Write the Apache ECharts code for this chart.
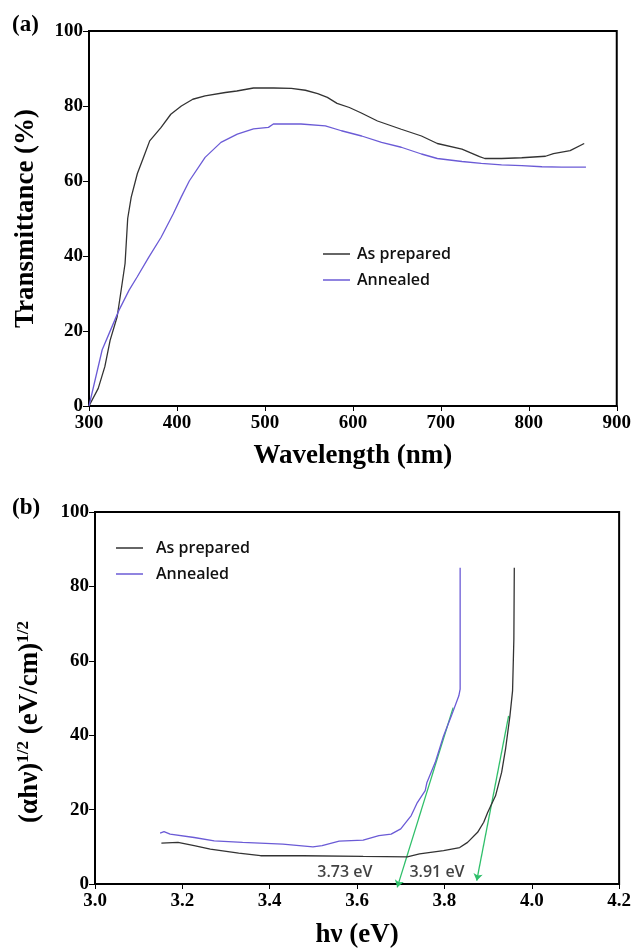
<!DOCTYPE html>
<html>
<head>
<meta charset="utf-8">
<script src="https://cdn.jsdelivr.net/npm/echarts@6/dist/echarts.min.js"></script>
<style>
html, body { margin: 0; padding: 0; background: #fff; }
#chart { width: 634px; height: 950px; }
</style>
</head>
<body>
<div id="chart"></div>
<script>
// (a) transmittance vs wavelength
var wlPrepared = [300, 310.5, 318, 324, 332, 336, 341, 344, 348, 355, 361.5, 369, 382, 393, 405, 418, 432, 455, 468, 487, 510, 530, 546, 560, 571, 582, 596, 609, 628, 655, 678, 696, 724, 744, 750, 769, 792, 819, 828, 847, 863];
var tPrepared = [0, 4.7, 10.5, 17.5, 23.8, 30, 38, 50, 55.7, 62, 66, 70.7, 74.3, 77.8, 80, 81.8, 82.7, 83.6, 84, 84.8, 84.8, 84.7, 84.2, 83.3, 82.3, 80.7, 79.6, 78.2, 76, 73.8, 72, 70, 68.5, 66.5, 66, 66, 66.2, 66.6, 67.3, 68.1, 70];
var wlAnnealed = [300, 306, 315, 322.8, 334, 345.6, 354.7, 368, 382, 395.7, 404.8, 414, 432, 450, 468.6, 487, 504, 509.6, 541, 568.7, 587, 610, 632.6, 655, 678, 696, 724, 746, 769, 792, 815, 837.6, 865];
var tAnnealed = [0, 6, 15, 19.3, 25.5, 30.9, 34.4, 39.7, 45, 51.2, 55.7, 60, 66.3, 70.3, 72.5, 73.9, 74.3, 75.2, 75.2, 74.7, 73.4, 72, 70.3, 69, 67.2, 66, 65.2, 64.7, 64.3, 64.1, 63.8, 63.7, 63.7];

// (b) Tauc plot
var evPrepared = [3.152, 3.19, 3.227, 3.264, 3.329, 3.379, 3.476, 3.614, 3.715, 3.743, 3.798, 3.835, 3.853, 3.876, 3.89, 3.899, 3.917, 3.931, 3.94, 3.95, 3.956, 3.959, 3.96];
var aPrepared = [11.0, 11.2, 10.3, 9.4, 8.3, 7.6, 7.6, 7.4, 7.3, 8.1, 9.0, 9.8, 11.2, 13.9, 16.6, 19.2, 23.7, 30, 36.3, 45.2, 51.9, 65.8, 85];
var evAnnealed = [3.149, 3.158, 3.172, 3.227, 3.273, 3.338, 3.43, 3.499, 3.52, 3.559, 3.614, 3.65, 3.678, 3.7, 3.724, 3.738, 3.756, 3.76, 3.779, 3.798, 3.816, 3.833, 3.836, 3.836];
var aAnnealed = [13.7, 14.1, 13.4, 12.5, 11.6, 11.2, 10.7, 10.0, 10.3, 11.5, 11.8, 13.0, 13.4, 14.8, 18.4, 21.9, 25.1, 27.3, 32.7, 39.8, 45.2, 50.6, 52.4, 85];

// band gap extrapolation arrows and labels
var gapArrows = [[[3.82, 47.4], [3.692, -0.9]], [[3.947, 45.2], [3.874, 0.9]]];
var gapLabels = ['3.73 eV', '3.91 eV'];
var gapLabelPos = [[3.572, 3.2], [3.783, 3.2]];

var colPrepared = '#333333';
var colAnnealed = '#6b5bd6';
var serif = '"Liberation Serif", "Times New Roman", serif';
var sans = '"Open Sans", Lato, sans-serif';

function pairs(xs, ys) {
    return xs.map(function (x, i) { return [x, ys[i]]; });
}

var myChart = echarts.init(document.getElementById('chart'));

var axisLab = { color: '#000', fontFamily: serif, fontWeight: 'bold', fontSize: 19 };
var axisName = { color: '#000', fontFamily: serif, fontWeight: 'bold', fontSize: 27 };

function yAx(idx, name, gap, nameStyle) {
    return {
        type: 'value', gridIndex: idx, min: 0, max: 100, interval: 20,
        name: name, nameLocation: 'middle', nameGap: gap, nameTextStyle: nameStyle,
        axisLine: { show: true, lineStyle: { color: '#000', width: 2 } },
        axisTick: { show: true, inside: false, length: 6, lineStyle: { color: '#000' } },
        axisLabel: Object.assign({ margin: 6 }, axisLab),
        splitLine: { show: false }
    };
}

var legendText = { fontFamily: sans, fontWeight: 600, fontSize: 16, color: '#111', lineHeight: 20 };

var option = {
    animation: false,
    backgroundColor: '#fff',
    grid: [
        { left: 89, right: 12, top: 31, bottom: 544, show: true, borderColor: '#000', borderWidth: 2 },
        { left: 95, right: 10, top: 512, bottom: 66, show: true, borderColor: '#000', borderWidth: 2 }
    ],
    legend: [
        {
            data: ['As prepared', 'Annealed'], orient: 'vertical', left: 318, top: 239,
            icon: 'rect', itemWidth: 27, itemHeight: 1.5, itemGap: 6,
            textStyle: Object.assign({ padding: [0, 0, 0, 2] }, legendText)
        },
        {
            data: ['As prepared ', 'Annealed '], orient: 'vertical', left: 111, top: 533,
            icon: 'rect', itemWidth: 27, itemHeight: 1.5, itemGap: 6,
            textStyle: Object.assign({ padding: [0, 0, 0, 8] }, legendText)
        }
    ],
    graphic: [
        { type: 'text', left: 12, top: 14, style: { text: '(a)', font: 'bold 23px ' + serif, fill: '#000' } },
        { type: 'text', left: 12, top: 497, style: { text: '(b)', font: 'bold 23px ' + serif, fill: '#000' } }
    ],
    xAxis: [
        {
            type: 'value', gridIndex: 0, min: 300, max: 900, interval: 100,
            name: 'Wavelength (nm)', nameLocation: 'middle', nameGap: 37, nameTextStyle: axisName,
            axisLine: { onZero: false, lineStyle: { color: '#000', width: 2 } },
            axisTick: { inside: false, length: 5, lineStyle: { color: '#000' } },
            axisLabel: Object.assign({ margin: 8 }, axisLab),
            splitLine: { show: false }
        },
        {
            type: 'value', gridIndex: 1, min: 3.0, max: 4.2, interval: 0.2,
            name: 'hν (eV)', nameLocation: 'middle', nameGap: 38, nameTextStyle: axisName,
            axisLine: { onZero: false, lineStyle: { color: '#000', width: 2 } },
            axisTick: { inside: false, length: 5, lineStyle: { color: '#000' } },
            axisLabel: Object.assign({ margin: 8, formatter: function (v) { return v.toFixed(1); } }, axisLab),
            splitLine: { show: false }
        }
    ],
    yAxis: [
        yAx(0, 'Transmittance (%)', 49, axisName),
        yAx(1, '{m|(αhν)}{s|1/2}{m| (eV/cm)}{s|1/2}', 50, {
            color: '#000', fontFamily: serif, fontWeight: 'bold', fontSize: 27,
            padding: [0, 48, 0, 0],
            rich: {
                m: { fontFamily: serif, fontWeight: 'bold', fontSize: 27, color: '#000', lineHeight: 30 },
                s: { fontFamily: serif, fontWeight: 'bold', fontSize: 17, color: '#000', lineHeight: 18, verticalAlign: 'top' }
            }
        })
    ],
    series: [
        {
            name: 'As prepared', type: 'line', xAxisIndex: 0, yAxisIndex: 0,
            data: pairs(wlPrepared, tPrepared), showSymbol: false, color: colPrepared,
            lineStyle: { width: 1.3, color: colPrepared }
        },
        {
            name: 'Annealed', type: 'line', xAxisIndex: 0, yAxisIndex: 0,
            data: pairs(wlAnnealed, tAnnealed), showSymbol: false, color: colAnnealed,
            lineStyle: { width: 1.3, color: colAnnealed }
        },
        {
            name: 'As prepared ', type: 'line', xAxisIndex: 1, yAxisIndex: 1,
            data: pairs(evPrepared, aPrepared), showSymbol: false, color: colPrepared,
            lineStyle: { width: 1.3, color: colPrepared }
        },
        {
            name: 'Annealed ', type: 'line', xAxisIndex: 1, yAxisIndex: 1,
            data: pairs(evAnnealed, aAnnealed), showSymbol: false, color: colAnnealed,
            lineStyle: { width: 1.3, color: colAnnealed }
        },
        {
            name: 'gap', type: 'lines', coordinateSystem: 'cartesian2d', xAxisIndex: 1, yAxisIndex: 1,
            clip: false, symbol: ['none', 'arrow'], symbolSize: 7,
            lineStyle: { color: '#2fbf6a', width: 1.3, opacity: 1 },
            data: gapArrows.map(function (c) { return { coords: c }; })
        },
        {
            name: 'gapLabel', type: 'scatter', xAxisIndex: 1, yAxisIndex: 1, symbolSize: 0,
            itemStyle: { color: 'transparent' },
            data: gapLabelPos.map(function (p, i) { return { value: p, name: gapLabels[i] }; }),
            label: {
                show: true, position: 'inside', formatter: '{b}',
                fontFamily: sans, fontWeight: 600, fontSize: 16, color: '#111',
                textBorderWidth: 0, textBorderColor: 'transparent'
            }
        }
    ]
};

myChart.setOption(option);
</script>
</body>
</html>
